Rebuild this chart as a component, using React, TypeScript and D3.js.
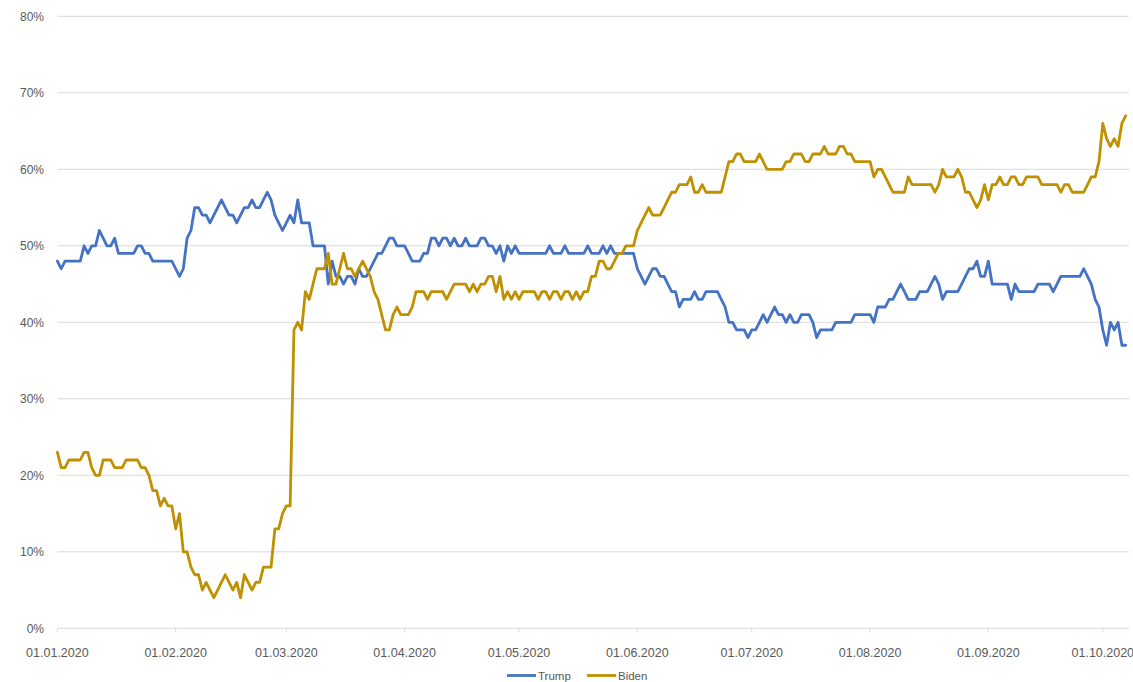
import React from 'react';
import * as d3 from 'd3';

// Daily poll values from 01.01.2020 (one value per day)
const startDate = new Date(2020, 0, 1);

const trump: number[] = [
  48,47,48,48,48,48,48,50,49,50,
  50,52,51,50,50,51,49,49,49,49,
  49,50,50,49,49,48,48,48,48,48,
  48,47,46,47,51,52,55,55,54,54,
  53,54,55,56,55,54,54,53,54,55,
  55,56,55,55,56,57,56,54,53,52,
  53,54,53,56,53,53,53,50,50,50,
  50,45,48,46,46,45,46,46,45,47,
  46,46,47,48,49,49,50,51,51,50,
  50,50,49,48,48,48,49,49,51,51,
  50,51,51,50,51,50,50,51,50,50,
  50,51,51,50,50,49,50,48,50,49,
  50,49,49,49,49,49,49,49,49,50,
  49,49,49,50,49,49,49,49,49,50,
  49,49,49,50,49,50,49,49,49,49,
  49,49,47,46,45,46,47,47,46,46,
  45,44,44,42,43,43,43,44,43,43,
  44,44,44,44,43,42,40,40,39,39,
  39,38,39,39,40,41,40,41,42,41,
  41,40,41,40,40,41,41,41,40,38,
  39,39,39,39,40,40,40,40,40,41,
  41,41,41,41,40,42,42,42,43,43,
  44,45,44,43,43,43,44,44,44,45,
  46,45,43,44,44,44,44,45,46,47,
  47,48,46,46,48,45,45,45,45,45,
  43,45,44,44,44,44,44,45,45,45,
  45,44,45,46,46,46,46,46,46,47,
  46,45,43,42,39,37,40,39,40,37,37,
];

const biden: number[] = [
  23,21,21,22,22,22,22,23,23,21,
  20,20,22,22,22,21,21,21,22,22,
  22,22,21,21,20,18,18,16,17,16,
  16,13,15,10,10,8,7,7,5,6,
  5,4,5,6,7,6,5,6,4,7,
  6,5,6,6,8,8,8,13,13,15,
  16,16,39,40,39,44,43,45,47,47,
  47,49,45,45,47,49,47,47,46,47,
  48,47,46,44,43,41,39,39,41,42,
  41,41,41,42,44,44,44,43,44,44,
  44,44,43,44,45,45,45,45,44,45,
  44,45,45,46,46,44,46,43,44,43,
  44,43,44,44,44,44,43,44,44,43,
  44,44,43,44,44,43,44,43,44,44,
  46,46,48,48,47,47,48,49,49,50,
  50,50,52,53,54,55,54,54,54,55,
  56,57,57,58,58,58,59,57,57,58,
  57,57,57,57,57,59,61,61,62,62,
  61,61,61,61,62,61,60,60,60,60,
  60,61,61,62,62,62,61,61,62,62,
  62,63,62,62,62,63,63,62,62,61,
  61,61,61,61,59,60,60,59,58,57,
  57,57,57,59,58,58,58,58,58,58,
  57,58,60,59,59,59,60,59,57,57,
  56,55,56,58,56,58,58,59,58,58,
  59,59,58,58,59,59,59,59,58,58,
  58,58,58,57,58,58,57,57,57,57,
  58,59,59,61,66,64,63,64,63,66,67,
];

const yTicks: number[] = [0, 10, 20, 30, 40, 50, 60, 70, 80];
const xTickDates: Date[] = [
  new Date(2020, 0, 1), new Date(2020, 1, 1), new Date(2020, 2, 1), new Date(2020, 3, 1),
  new Date(2020, 4, 1), new Date(2020, 5, 1), new Date(2020, 6, 1), new Date(2020, 7, 1),
  new Date(2020, 8, 1), new Date(2020, 9, 1),
];
const seriesNames = ['Trump', 'Biden'];
const seriesColors = ['#4472C4', '#BF9000'];

export default function App() {
  const W = 1133;
  const H = 682;
  const plotLeft = 57.4;
  const plotRight = 1129;
  const x = d3.scaleTime()
    .domain([new Date(2020, 0, 1), new Date(2020, 9, 1)])
    .range([plotLeft, 1102.8]);
  const y = d3.scaleLinear().domain([0, 80]).range([628.3, 16.3]);
  const fmt = d3.timeFormat('%d.%m.%Y');
  const font = '"Liberation Sans", Arial, sans-serif';

  const mkLine = (vals: number[]) =>
    d3.line<number>()
      .x((_, i) => x(d3.timeDay.offset(startDate, i)))
      .y((d) => y(d))(vals) || '';

  const series = [trump, biden];

  return (
    <div style={{ position: 'absolute', left: 0, top: 0 }}>
      <svg width={W} height={H} style={{ display: 'block', background: '#fff' }}>
        {yTicks.map((t) => (
          <g key={t}>
            <line x1={plotLeft} x2={plotRight} y1={y(t)} y2={y(t)} stroke="#d9d9d9" strokeWidth={1} />
            <text x={44} y={y(t)} dy="0.35em" textAnchor="end" fontSize={12} fill="#595959" fontFamily={font}>
              {t}%
            </text>
          </g>
        ))}
        {xTickDates.map((d, i) => (
          <g key={i}>
            <line x1={x(d)} x2={x(d)} y1={y(0)} y2={y(0) + 4} stroke="#d9d9d9" strokeWidth={1} />
            <text x={x(d)} y={657} textAnchor="middle" fontSize={12.5} fill="#595959" fontFamily={font}>
              {fmt(d)}
            </text>
          </g>
        ))}
        {series.map((vals, i) => (
          <path key={i} d={mkLine(vals)} fill="none" stroke={seriesColors[i]} strokeWidth={2.8}
            strokeLinejoin="round" strokeLinecap="round" />
        ))}
        {seriesNames.map((n, i) => {
          const lx = i === 0 ? 507 : 587;
          return (
            <g key={n}>
              <line x1={lx} x2={lx + 29} y1={675.5} y2={675.5} stroke={seriesColors[i]} strokeWidth={2.8} />
              <text x={lx + 31} y={675.5} dy="0.35em" fontSize={11.5} fill="#595959" fontFamily={font}>{n}</text>
            </g>
          );
        })}
      </svg>
    </div>
  );
}
